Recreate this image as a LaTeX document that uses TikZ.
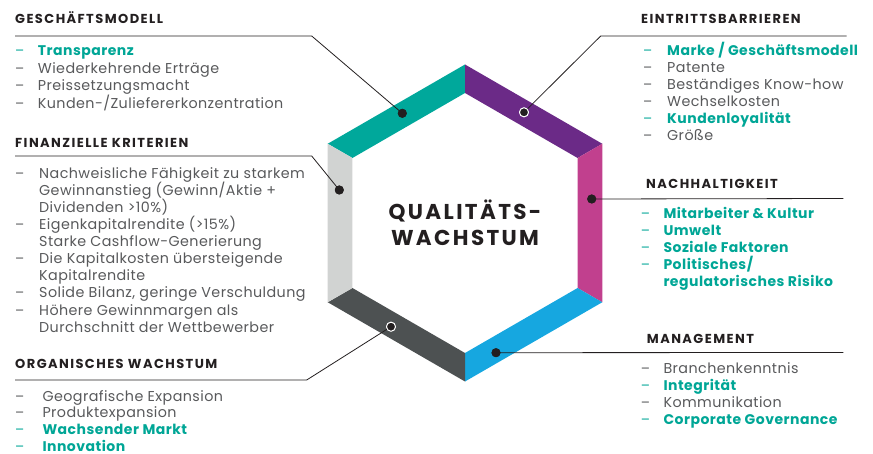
\documentclass[tikz,border=0pt]{standalone}
\usepackage{fontspec}
\setmainfont{Poppins}
\usetikzlibrary{positioning}

\definecolor{ink}{RGB}{35,31,32}
\definecolor{txtgray}{RGB}{88,89,91}
\definecolor{hiteal}{RGB}{0,166,150}
\definecolor{cteal}{RGB}{0,168,155}
\definecolor{cpurple}{RGB}{107,42,135}
\definecolor{cmagenta}{RGB}{193,64,142}
\definecolor{cblue}{RGB}{22,167,224}
\definecolor{cdark}{RGB}{77,81,82}
\definecolor{clight}{RGB}{209,211,210}

\begin{document}
\begin{tikzpicture}[
  x=1pt, y=-1pt,
  head/.style={anchor=base west, inner sep=0, text=ink,
    font=\fontsize{13}{15}\selectfont\bfseries\addfontfeature{LetterSpace=11}},
  item/.style={anchor=base west, inner sep=0, text=txtgray,
    font=\fontsize{14.3}{17}\selectfont\addfontfeature{LetterSpace=3}},
  hi/.style={item, text=hiteal,
    font=\fontsize{14}{17}\selectfont\bfseries\addfontfeature{LetterSpace=3.5}},
  bar/.style={anchor=base west, inner sep=0, text=txtgray, font=\fontsize{13.5}{17}\selectfont},
  hibar/.style={bar, text=hiteal},
  lead/.style={draw=ink, line width=0.8pt},
  dot/.style={circle, fill=ink, inner sep=0, minimum size=9pt},
  ringdot/.style={dot, draw=white, line width=0.9pt}
]
\useasboundingbox (0,0) rectangle (873,454);

%% hexagon bands
\begin{scope}[shift={(465,223)}]
\foreach \a/\col in {-150/cteal, -90/cpurple, -30/cmagenta, 30/cblue, 90/cdark, 150/clight}
  \fill[\col] (\a:158.5) -- (\a+60:158.5) -- (\a+60:130) -- (\a:130) -- cycle;
\end{scope}
\node[align=center, text=ink, inner sep=0,
  font=\fontsize{21.5}{26}\selectfont\bfseries\addfontfeature{LetterSpace=11}] (core) at (465,223) {QUALITÄTS-\\WACHSTUM};

%% dots on the bands
\node[dot]     (dgm) at (402.3,113.3) {};
\node[ringdot] (deb) at (524,112.3) {};
\node[dot]     (dfk) at (339.3,190) {};
\node[dot]     (dnh) at (591.7,199) {};
\node[ringdot] (dow) at (391,326.7) {};
\node[dot]     (dmg) at (496,352.7) {};

%% leader lines
\coordinate (gm-a) at (15,36);    \coordinate (gm-b) at (311.7,36);
\coordinate (fk-a) at (15,156);   \coordinate (fk-b) at (311.7,156);
\coordinate (ow-a) at (15,380);   \coordinate (ow-b) at (306.7,380);
\coordinate (eb-a) at (846.7,36); \coordinate (eb-b) at (600.7,36);
\coordinate (nh-a) at (843.3,198.5);
\coordinate (mg-a) at (843.3,352.5);
\draw[lead] (gm-a) -- (gm-b) -- (dgm.center);
\draw[lead] (fk-a) -- (fk-b) -- (dfk.center);
\draw[lead] (ow-a) -- (ow-b) -- (dow.center);
\draw[lead] (eb-a) -- (eb-b) -- (deb.center);
\draw[lead] (nh-a) -- (dnh.center);
\draw[lead] (mg-a) -- (dmg.center);
% dots again on top of the lines
\node[dot]     at (dgm) {};
\node[ringdot] at (deb) {};
\node[dot]     at (dfk) {};
\node[dot]     at (dnh) {};
\node[ringdot] at (dow) {};
\node[dot]     at (dmg) {};

%% Geschaeftsmodell
\node[head] (gm) at (15,24) {GESCHÄFTSMODELL};
\node[hibar] (gm-d1) at (15,56)    {–}; \node[hi]   (gm1) at (37.7,56)    {Transparenz};
\node[bar]   (gm-d2) at (15,73.4)  {–}; \node[item] (gm2) at (37.7,73.4)  {Wiederkehrende Erträge};
\node[bar]   (gm-d3) at (15,90.8)  {–}; \node[item] (gm3) at (37.7,90.8)  {Preissetzungsmacht};
\node[bar]   (gm-d4) at (15,108.2) {–}; \node[item] (gm4) at (37.7,108.2) {Kunden-/Zuliefererkonzentration};

%% Finanzielle Kriterien
\node[head] (fk) at (15,147.5) {FINANZIELLE KRITERIEN};
\node[bar] (fk-d1) at (15,178.3) {–}; \node[item] (fk1) at (39,178.3) {Nachweisliche Fähigkeit zu starkem};
                                      \node[item] (fk2) at (39,195.4) {Gewinnanstieg (Gewinn/Aktie +};
                                      \node[item] (fk3) at (39,212.5) {Dividenden >10\%)};
\node[bar] (fk-d4) at (15,229.6) {–}; \node[item] (fk4) at (39,229.6) {Eigenkapitalrendite (>15\%)};
                                      \node[item] (fk5) at (39,246.7) {Starke Cashflow-Generierung};
\node[bar] (fk-d6) at (15,263.8) {–}; \node[item] (fk6) at (39,263.8) {Die Kapitalkosten übersteigende};
                                      \node[item] (fk7) at (39,280.9) {Kapitalrendite};
\node[bar] (fk-d8) at (15,298)   {–}; \node[item] (fk8) at (39,298)   {Solide Bilanz, geringe Verschuldung};
\node[bar] (fk-d9) at (15,315.1) {–}; \node[item] (fk9) at (39,315.1) {Höhere Gewinnmargen als};
                                      \node[item] (fk10) at (39,332.2) {Durchschnitt der Wettbewerber};

%% Organisches Wachstum
\node[head] (ow) at (15,369) {ORGANISCHES WACHSTUM};
\node[bar]   (ow-d1) at (15,401)   {–}; \node[item] (ow1) at (42.3,401)   {Geografische Expansion};
\node[bar]   (ow-d2) at (15,417.8) {–}; \node[item] (ow2) at (42.3,417.8) {Produktexpansion};
\node[hibar] (ow-d3) at (15,434.6) {–}; \node[hi]   (ow3) at (42.3,434.6) {Wachsender Markt};
\node[hibar] (ow-d4) at (15,451.2) {–}; \node[hi]   (ow4) at (42.3,451.2) {Innovation};

%% Eintrittsbarrieren
\node[head] (eb) at (641,24) {EINTRITTSBARRIEREN};
\node[hibar] (eb-d1) at (643,56)    {–}; \node[hi]   (eb1) at (667,56)    {Marke / Geschäftsmodell};
\node[bar]   (eb-d2) at (643,73)    {–}; \node[item] (eb2) at (667,73)    {Patente};
\node[bar]   (eb-d3) at (643,90)    {–}; \node[item] (eb3) at (667,90)    {Beständiges Know-how};
\node[bar]   (eb-d4) at (643,107)   {–}; \node[item] (eb4) at (667,107)   {Wechselkosten};
\node[hibar] (eb-d5) at (643,124)   {–}; \node[hi]   (eb5) at (667,124)   {Kundenloyalität};
\node[bar]   (eb-d6) at (643,141)   {–}; \node[item] (eb6) at (667,141)   {Größe};

%% Nachhaltigkeit
\node[head] (nh) at (646,188.3) {NACHHALTIGKEIT};
\node[hibar] (nh-d1) at (640.7,219) {–}; \node[hi] (nh1) at (663.3,219) {Mitarbeiter \& Kultur};
\node[hibar] (nh-d2) at (640.7,236) {–}; \node[hi] (nh2) at (663.3,236) {Umwelt};
\node[hibar] (nh-d3) at (640.7,253) {–}; \node[hi] (nh3) at (663.3,253) {Soziale Faktoren};
\node[hibar] (nh-d4) at (640.7,270) {–}; \node[hi] (nh4) at (663.3,270) {Politisches/};
                                         \node[hi] (nh5) at (663.3,287) {regulatorisches Risiko};

%% Management
\node[head] (mg) at (646.7,343.3) {MANAGEMENT};
\node[bar]   (mg-d1) at (640.7,373.5) {–}; \node[item] (mg1) at (663.3,373.5) {Branchenkenntnis};
\node[hibar] (mg-d2) at (640.7,390.5) {–}; \node[hi]   (mg2) at (663.3,390.5) {Integrität};
\node[bar]   (mg-d3) at (640.7,407.5) {–}; \node[item] (mg3) at (663.3,407.5) {Kommunikation};
\node[hibar] (mg-d4) at (640.7,424.5) {–}; \node[hi]   (mg4) at (663.3,424.5) {Corporate Governance};

\end{tikzpicture}
\end{document}
